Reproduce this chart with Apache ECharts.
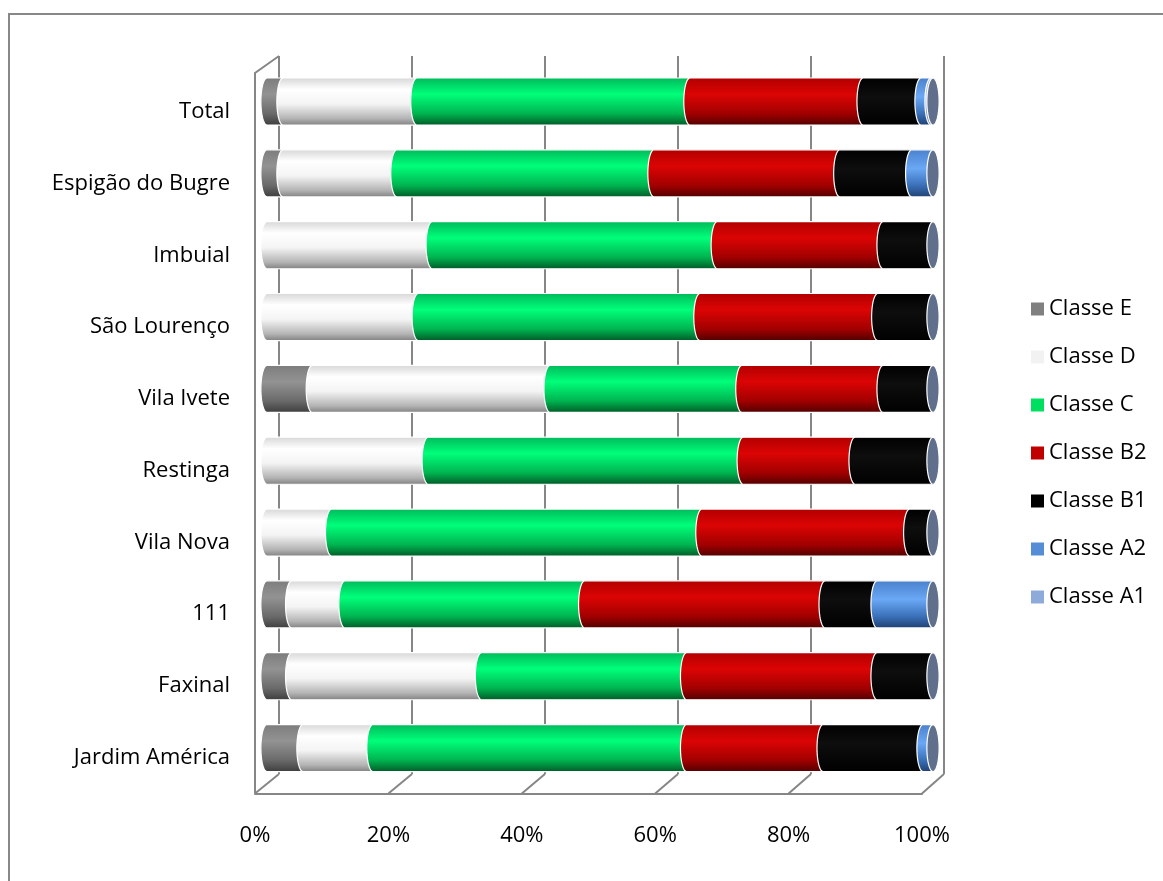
<!DOCTYPE html>
<html>
<head>
<meta charset="utf-8">
<script src="https://cdn.jsdelivr.net/npm/echarts@6/dist/echarts.min.js"></script>
<style>
  html, body { margin: 0; padding: 0; background: #fff; }
  #main { width: 1163px; height: 881px; }
</style>
</head>
<body>
<div id="main"></div>
<script>
// categories bottom -> top (category axis runs upwards)
const categories = ['Jardim América', 'Faxinal', '111', 'Vila Nova', 'Restinga', 'Vila Ivete', 'São Lourenço', 'Imbuial', 'Espigão do Bugre', 'Total']
// share of each class, in %
const classeE = [5.4, 3.7, 3.7, 0, 0, 6.8, 0, 0, 2.4, 2.4]
const classeD = [10.5, 28.5, 8.0, 9.7, 24.2, 35.7, 22.7, 24.8, 17.1, 20.1]
const classeC = [47.1, 30.8, 36.0, 55.6, 47.3, 28.8, 42.3, 42.8, 38.6, 41.0]
const classeB2 = [20.5, 28.6, 36.1, 31.2, 16.8, 21.2, 26.7, 24.9, 27.9, 26.0]
const classeB1 = [15.0, 8.4, 7.8, 3.5, 11.7, 7.5, 8.3, 7.5, 10.8, 8.7]
const classeA2 = [1.5, 0, 8.4, 0, 0, 0, 0, 0, 3.2, 1.5]
const classeA1 = [0, 0, 0, 0, 0, 0, 0, 0, 0, 0.3]
const xTicks = [0, 20, 40, 60, 80, 100]

const FONT = 'Open Sans'
const GRID_LINE = '#868686'

// cylinder shading: [offset, color] top -> bottom
const classes = [
  { name: 'Classe E', values: classeE, color: '#808080',
    stops: [[0, '#7c7c7c'], [0.35, '#939393'], [0.75, '#6a6a6a'], [1, '#3c3c3c']] },
  { name: 'Classe D', values: classeD, color: '#f2f2f2',
    stops: [[0, '#d6d6d6'], [0.25, '#ffffff'], [0.55, '#f4f4f4'], [0.85, '#b4b4b4'], [1, '#7e7e7e']] },
  { name: 'Classe C', values: classeC, color: '#00e060',
    stops: [[0, '#00b85a'], [0.35, '#00ff7a'], [0.75, '#00b450'], [1, '#005826']] },
  { name: 'Classe B2', values: classeB2, color: '#c00000',
    stops: [[0, '#b00000'], [0.35, '#dc0404'], [0.75, '#a20000'], [1, '#500000']] },
  { name: 'Classe B1', values: classeB1, color: '#000000',
    stops: [[0, '#000000'], [0.4, '#0e0e0e'], [1, '#000000']] },
  { name: 'Classe A2', values: classeA2, color: '#558ed5',
    stops: [[0, '#4a80cc'], [0.4, '#6aa8f5'], [0.75, '#3a70b8'], [1, '#1f3f70']] },
  { name: 'Classe A1', values: classeA1, color: '#8eaadb',
    stops: [[0, '#8aa4d0'], [0.4, '#b4c8ec'], [1, '#506890']] }
]

const chart = echarts.init(document.getElementById('main'))

function makeGradient(stops) {
  return new echarts.graphic.LinearGradient(0, 0, 0, 1,
    stops.map(s => ({ offset: s[0], color: s[1] })))
}

// one cylinder segment: flat right side, elliptic left end
function segmentRenderer(stops) {
  const fill = makeGradient(stops)
  return function(params, api) {
    const start = api.value(0)
    const end = api.value(1)
    if (end - start <= 0) return null
    const p0 = api.coord([start, api.value(2)])
    const p1 = api.coord([end, api.value(2)])
    const h = api.size([0, 1])[1] * 0.655
    const rx = h * 0.13
    const pts = [[p1[0], p0[1] - h / 2], [p1[0], p0[1] + h / 2]]
    for (let k = 0; k <= 24; k++) {
      const t = Math.PI * k / 24
      pts.push([p0[0] - rx * Math.sin(t), p0[1] + h / 2 * Math.cos(t)])
    }
    return {
      type: 'polygon',
      shape: { points: pts },
      style: { fill: fill, stroke: '#ffffff', lineWidth: 1.2 }
    }
  }
}

// end cap of every cylinder
function capRenderer(params, api) {
  const p = api.coord([api.value(0), api.value(1)])
  const h = api.size([0, 1])[1] * 0.655
  const rx = h * 0.13
  const pts = []
  for (let k = 0; k < 40; k++) {
    const t = 2 * Math.PI * k / 40
    pts.push([p[0] + rx * Math.sin(t), p[1] + h / 2 * Math.cos(t)])
  }
  return {
    type: 'polygon',
    shape: { points: pts },
    style: { fill: '#5f6f8c', stroke: '#ffffff', lineWidth: 1.2 }
  }
}

const acc = categories.map(() => 0)
const series = classes.map(c => {
  const data = c.values.map((v, i) => {
    const s = acc[i]
    acc[i] = s + v
    return [s, acc[i], i]
  })
  return {
    type: 'custom',
    name: c.name,
    xAxisIndex: 1,
    yAxisIndex: 1,
    itemStyle: { color: c.color },
    encode: { x: [0, 1], y: 2 },
    data: data,
    renderItem: segmentRenderer(c.stops)
  }
})
series.push({
  type: 'custom',
  name: 'cap',
  xAxisIndex: 1,
  yAxisIndex: 1,
  encode: { x: 0, y: 1 },
  data: categories.map((c, i) => [acc[i], i]),
  renderItem: capRenderer,
  z: 3
})

const option = {
  backgroundColor: '#ffffff',
  animation: false,
  legend: {
    data: classes.map(c => c.name),
    orient: 'vertical',
    left: 1026,
    top: 293,
    icon: 'rect',
    itemWidth: 13,
    itemHeight: 13,
    itemGap: 26,
    textStyle: { fontFamily: FONT, fontSize: 22, color: '#000', padding: [3, 0, 0, 0] }
  },
  grid: [
    // back wall
    { left: 279, top: 56, width: 665, height: 718, outerBoundsMode: 'none', containLabel: false },
    // cylinders (mid depth)
    { left: 267, top: 65.6, width: 666, height: 718.4, outerBoundsMode: 'none', containLabel: false },
    // front edge with labels
    { left: 255, top: 76, width: 667, height: 717.5, outerBoundsMode: 'none', containLabel: false }
  ],
  xAxis: [
    {
      gridIndex: 0, type: 'value', min: 0, max: 100, interval: 20,
      axisLine: { show: false }, axisTick: { show: false }, axisLabel: { show: false },
      splitLine: { show: true, showMinLine: true, showMaxLine: true, lineStyle: { color: GRID_LINE, width: 2 } }
    },
    { gridIndex: 1, type: 'value', min: 0, max: 100, show: false },
    {
      gridIndex: 2, type: 'value', min: 0, max: 100, interval: 20,
      axisLine: { show: true, lineStyle: { color: GRID_LINE, width: 2 } },
      axisTick: { show: false },
      splitLine: { show: false },
      axisLabel: { formatter: '{value}%', margin: 31, fontFamily: FONT, fontSize: 22, color: '#000' }
    }
  ],
  yAxis: [
    { gridIndex: 0, type: 'category', data: categories, show: false },
    { gridIndex: 1, type: 'category', data: categories, show: false },
    {
      gridIndex: 2, type: 'category', data: categories,
      axisLine: { show: false }, axisTick: { show: false },
      axisLabel: { margin: 25, fontFamily: FONT, fontSize: 22, color: '#000', padding: [6, 0, 0, 0] }
    }
  ],
  series: series
}

chart.setOption(option)

// 3D frame: floor diagonals, left wall edge, outer border
const lineStyle = { stroke: GRID_LINE, lineWidth: 2 }
const graphics = []
const floorFront = chart.convertToPixel({ yAxisIndex: 2 }, categories[0]) + 717.5 / 10 / 2
const floorBack = 774
xTicks.forEach(v => {
  const xf = chart.convertToPixel({ xAxisIndex: 2 }, v)
  const xb = chart.convertToPixel({ xAxisIndex: 0 }, v)
  graphics.push({ type: 'line', shape: { x1: xf, y1: floorFront, x2: xb, y2: floorBack }, style: lineStyle, z: 1 })
})
const xf0 = chart.convertToPixel({ xAxisIndex: 2 }, 0)
const xb0 = chart.convertToPixel({ xAxisIndex: 0 }, 0)
graphics.push({
  type: 'polyline',
  shape: { points: [[xb0, 56], [xf0, 73], [xf0, floorFront]] },
  style: { stroke: GRID_LINE, lineWidth: 2, fill: null },
  z: 1
})
graphics.push({
  type: 'rect',
  shape: { x: 9, y: 14, width: 1300, height: 1000 },
  style: { stroke: '#888888', lineWidth: 2, fill: null },
  z: 0
})
chart.setOption({ graphic: graphics })
</script>
</body>
</html>
